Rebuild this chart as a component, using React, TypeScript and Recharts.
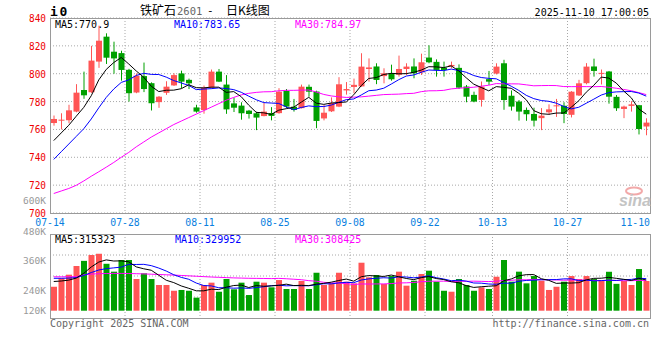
import { ComposedChart, Bar, Line, XAxis, YAxis, CartesianGrid, Cell } from 'recharts'

const dates = [
  '07-14', '07-15', '07-16', '07-17', '07-18',
  '07-21', '07-22', '07-23', '07-24', '07-25',
  '07-28', '07-29', '07-30', '07-31', '08-01',
  '08-04', '08-05', '08-06', '08-07', '08-08',
  '08-11', '08-12', '08-13', '08-14', '08-15',
  '08-18', '08-19', '08-20', '08-21', '08-22',
  '08-25', '08-26', '08-27', '08-28', '08-29',
  '09-01', '09-02', '09-03', '09-04', '09-05',
  '09-08', '09-09', '09-10', '09-11', '09-12',
  '09-15', '09-16', '09-17', '09-18', '09-19',
  '09-22', '09-23', '09-24', '09-25', '09-26',
  '09-29', '09-30', '10-09', '10-10',
  '10-13', '10-14', '10-15', '10-16', '10-17',
  '10-20', '10-21', '10-22', '10-23', '10-24',
  '10-27', '10-28', '10-29', '10-30', '10-31',
  '11-03', '11-04', '11-05', '11-06', '11-07',
  '11-10',
]

const opens = [
  764.6, 766.5, 766.6, 772.8, 788.3, 786.7, 808.7, 826.6, 815.8, 814.8,
  802.8, 786.5, 798.3, 793.2, 779.6, 786.3, 791.6, 800.2, 795.6, 775.8,
  773.9, 790.0, 801.5, 792.2, 778.7, 777.1, 773.5, 771.6, 769.6, 771.8,
  771.7, 787.6, 776.3, 775.3, 790.6, 787.2, 767.9, 773.0, 776.4, 788.0,
  790.5, 790.9, 803.4, 805.2, 798.3, 800.2, 799.2, 803.4, 805.2, 801.0,
  811.6, 808.5, 804.4, 805.3, 804.2, 790.8, 784.8, 781.2, 796.1, 800.1,
  807.5, 784.2, 780.0, 774.0, 771.1, 768.1, 772.3, 776.9, 777.0, 770.5,
  784.4, 793.2, 805.2, 800.0, 801.6, 783.4, 774.7, 776.9, 777.4, 762.1,
]
const highs = [
  770.0, 771.6, 777.7, 792.5, 801.5, 820.0, 834.5, 829.0, 823.0, 816.5,
  803.5, 800.2, 808.0, 793.8, 784.0, 794.6, 800.3, 802.2, 796.5, 777.7,
  791.5, 803.0, 803.4, 799.0, 782.8, 779.5, 774.0, 772.7, 779.3, 776.0,
  789.6, 789.0, 781.9, 792.2, 792.2, 787.8, 777.6, 783.0, 797.5, 794.0,
  796.5, 814.7, 811.0, 807.5, 803.9, 806.5, 813.0, 807.5, 811.0, 814.4,
  820.4, 810.3, 808.7, 808.7, 806.7, 791.9, 787.1, 794.4, 802.0, 807.5,
  810.0, 788.0, 781.1, 775.7, 775.6, 775.3, 778.0, 781.9, 779.5, 787.5,
  795.6, 807.6, 810.8, 803.0, 802.0, 784.7, 777.1, 780.3, 777.6, 768.0,
]
const lows = [
  762.7, 760.0, 764.5, 772.3, 782.0, 786.2, 804.2, 807.0, 800.0, 795.0,
  780.0, 786.0, 786.8, 773.6, 775.5, 784.8, 791.2, 789.7, 789.0, 772.0,
  771.3, 789.5, 794.0, 771.2, 772.5, 767.0, 767.8, 759.5, 769.4, 766.5,
  771.3, 775.3, 772.8, 775.0, 783.5, 760.9, 766.5, 772.5, 776.0, 785.0,
  786.0, 790.5, 794.3, 792.5, 793.1, 795.0, 797.9, 799.1, 796.7, 799.1,
  807.5, 797.9, 797.9, 803.9, 789.0, 779.5, 779.5, 776.4, 791.9, 799.5,
  774.1, 773.5, 766.3, 766.2, 762.1, 759.5, 770.4, 769.0, 764.5, 768.6,
  784.0, 792.4, 797.9, 792.3, 778.5, 773.3, 768.1, 772.8, 756.4, 755.8,
]
const closes = [
  767.5, 767.0, 773.7, 786.4, 784.5, 809.4, 823.7, 811.5, 811.0, 802.7,
  786.0, 798.6, 789.0, 778.8, 783.5, 790.7, 799.0, 794.3, 793.1, 772.8,
  790.0, 801.5, 794.3, 774.4, 775.6, 771.6, 771.1, 768.5, 772.8, 769.7,
  787.1, 776.4, 774.0, 790.7, 787.1, 766.1, 772.0, 779.0, 792.4, 789.0,
  792.0, 805.1, 804.5, 795.5, 800.3, 796.0, 803.4, 805.1, 800.3, 808.2,
  808.2, 802.7, 802.7, 806.3, 790.0, 783.5, 780.0, 790.7, 794.3, 805.1,
  781.1, 776.4, 772.8, 770.9, 766.3, 769.9, 774.4, 777.3, 771.1, 787.1,
  793.1, 805.1, 802.0, 800.6, 783.5, 775.2, 776.4, 778.0, 760.3, 764.9,
]

const ma5 = [
  752.0, 757.5, 763.0, 769.5, 775.82, 784.2, 795.54, 803.1, 808.02, 811.66,
  806.98, 801.96, 797.46, 791.02, 787.18, 788.12, 788.2, 789.26, 792.12, 789.98,
  789.84, 790.34, 790.34, 786.6, 787.16, 783.48, 777.4, 772.24, 771.92, 770.74,
  773.84, 774.9, 776.0, 779.58, 783.06, 778.86, 777.98, 778.98, 779.32, 779.7,
  784.88, 791.5, 796.6, 797.22, 799.48, 800.28, 799.94, 800.06, 801.02, 802.6,
  805.04, 804.9, 804.42, 805.62, 801.98, 797.04, 792.5, 790.1, 787.7, 790.72,
  790.24, 789.52, 785.94, 781.26, 773.5, 771.26, 770.86, 771.76, 771.8, 775.96,
  780.6, 786.74, 791.68, 797.58, 796.86, 793.28, 787.54, 782.74, 774.68, 770.96,
]
const ma10 = [
  738.5, 744.0, 749.5, 755.0, 760.5, 767.5, 775.5, 783.0, 789.0, 793.74,
  795.59, 798.75, 800.28, 799.52, 799.42, 797.55, 795.08, 793.36, 791.57, 788.58,
  788.98, 789.27, 789.8, 789.36, 788.57, 786.66, 783.87, 781.29, 779.26, 778.95,
  778.66, 776.15, 774.12, 775.75, 776.9, 776.35, 776.44, 777.49, 779.45, 781.38,
  781.87, 784.74, 787.79, 788.27, 789.59, 792.58, 795.72, 798.33, 799.12, 801.04,
  802.66, 802.42, 802.24, 803.32, 802.29, 801.04, 798.7, 797.26, 796.66, 796.35,
  793.64, 791.01, 788.02, 784.48, 782.11, 780.75, 780.19, 778.85, 776.53, 774.73,
  775.93, 778.8, 781.72, 784.69, 786.41, 786.94, 787.14, 787.21, 786.13, 783.91,
]
const ma30 = [
  714.0, 715.8, 717.6, 719.9, 723.0, 726.4, 729.6, 732.9, 736.3, 740.0,
  743.5, 747.5, 751.0, 754.5, 757.5, 760.5, 763.5, 766.0, 768.5, 771.0,
  773.5, 776.0, 778.5, 781.0, 783.0, 784.8, 785.9, 786.6, 787.0, 787.09,
  787.74, 788.06, 788.07, 788.21, 788.3, 786.85, 785.13, 784.05, 783.43, 782.97,
  783.17, 783.39, 783.9, 784.46, 785.02, 785.2, 785.34, 785.7, 785.94, 787.12,
  787.73, 787.77, 788.05, 789.11, 789.59, 789.99, 790.29, 791.03, 791.74, 792.92,
  792.72, 792.72, 792.68, 792.02, 791.33, 791.46, 791.54, 791.48, 790.77, 790.71,
  790.74, 790.74, 790.66, 790.83, 790.27, 789.58, 788.68, 787.77, 786.44, 785.0,
]

const volumes = [
  246000, 333000, 370000, 459000, 512000, 572000, 585000, 482000, 401000, 521000,
  521000, 326000, 384000, 326000, 264000, 264000, 205000, 213000, 205000, 134000,
  264000, 288000, 195000, 326000, 220000, 288000, 161000, 298000, 288000, 240000,
  315000, 223000, 223000, 305000, 223000, 390000, 264000, 284000, 390000, 298000,
  281000, 493000, 343000, 367000, 274000, 356000, 401000, 257000, 308000, 377000,
  411000, 298000, 205000, 195000, 326000, 264000, 205000, 240000, 223000, 349000,
  521000, 298000, 401000, 281000, 356000, 308000, 213000, 246000, 298000, 356000,
  326000, 356000, 326000, 305000, 400000, 276000, 305000, 264000, 428000, 305000,
]
const volMa5 = [
  300000, 305000, 314000, 335000, 384000, 449200, 499600, 522000, 510400, 512200,
  502000, 450200, 430600, 415600, 364200, 312800, 288600, 254400, 230200, 204200,
  204200, 220800, 217200, 241400, 258600, 263400, 238000, 258600, 251000, 255000,
  260400, 272800, 257800, 261200, 257800, 272800, 281000, 293200, 310200, 325200,
  303400, 349200, 361000, 356400, 351600, 366600, 348200, 331000, 319200, 339800,
  350800, 330200, 319800, 297200, 287000, 257600, 239000, 246000, 251600, 256200,
  307600, 326200, 358400, 370000, 371400, 328800, 311800, 280800, 284200, 284200,
  287800, 316400, 332400, 333800, 342600, 332600, 322400, 310000, 332200, 315600,
]
const volMa10 = [
  333000, 333000, 335000, 340000, 362000, 392000, 418000, 432000, 440000, 448100,
  475600, 474900, 476300, 463000, 438200, 407400, 369400, 342500, 322900, 284200,
  258500, 254700, 235800, 235800, 231400, 233800, 229400, 237900, 246200, 256800,
  261900, 255400, 258200, 256100, 256400, 266600, 276900, 275500, 285700, 291500,
  288100, 315100, 327100, 333300, 338400, 335000, 348700, 346000, 337800, 345700,
  358700, 339200, 325400, 308200, 313400, 304200, 284600, 282900, 274400, 271600,
  282600, 282600, 302200, 310800, 313800, 318200, 319000, 319600, 327100, 327800,
  308300, 314100, 306600, 309000, 313400, 310200, 319400, 321200, 334200, 329100,
]
const volMa30 = [
  348000, 348000, 349000, 350000, 368000, 376000, 380000, 382000, 383000, 383000,
  382000, 380000, 378000, 375000, 372000, 369000, 366000, 362000, 358000, 354000,
  350000, 346000, 343000, 340000, 337000, 335000, 333000, 332000, 331000, 329700,
  332000, 328300, 323400, 318300, 308700, 302600, 291900, 285300, 284900, 277500,
  269500, 275100, 273700, 275100, 275400, 278500, 285000, 286500, 289900, 298000,
  302900, 303200, 303600, 299200, 302700, 301900, 303400, 301500, 299300, 302900,
  309800, 312300, 318200, 317400, 321900, 319100, 317400, 316200, 313100, 315000,
  316500, 312000, 311400, 309300, 313500, 310900, 307700, 307900, 311900, 309500,
]

const priceTicks = [700, 720, 740, 760, 780, 800, 820, 840]
const dateTicks = ['07-14', '07-28', '08-11', '08-25', '09-08', '09-22', '10-13', '10-27', '11-10']
const volTickLabels = ['600K', '480K', '360K', '240K', '120K']

// layout
const W = 660
const PLOT_L = 50
const PLOT_R = 650
const PLOT_W = PLOT_R - PLOT_L
const MONO = '"DejaVu Sans Mono", monospace'
const RED = '#ff5555'
const GREEN = '#00a000'
const GRID = '#a8a8a8'
const FRAME = '#9a9a9a'
const VOL_LABEL_Y = [200, 231, 260.7, 290, 310.7]

const priceData = dates.map((d, i) => ({
  date: d,
  open: opens[i],
  high: highs[i],
  low: lows[i],
  close: closes[i],
  range: [lows[i], highs[i]],
  ma5: ma5[i],
  ma10: ma10[i],
  ma30: ma30[i],
}))

const volData = dates.map((d, i) => ({
  date: d,
  vol: volumes[i],
  up: closes[i] >= opens[i],
  ma5: volMa5[i],
  ma10: volMa10[i],
  ma30: volMa30[i],
}))

const gridIdx = dateTicks.map((d) => dates.indexOf(d)).filter((i) => i > 0 && i < dates.length - 1)
const vGrid = ({ offset }: any) => gridIdx.map((i) => offset.left + (offset.width * i) / dates.length)
const hGridVol = ({ offset }: any) => [1, 2, 3].map((k) => offset.top + (offset.height * k) / 4)

const Candle = (props: any) => {
  const { x, y, width, height, payload } = props
  const top = Math.min(y, y + height)
  const h = Math.abs(height)
  const { open, close, high, low } = payload
  const color = close >= open ? RED : GREEN
  const span = high - low || 1
  const py = (v: number) => top + ((high - v) / span) * h
  const bTop = py(Math.max(open, close))
  const bBot = py(Math.min(open, close))
  const cx = x + width / 2
  return (
    <g>
      <line x1={cx} x2={cx} y1={top} y2={top + h} stroke={color} strokeWidth={1} />
      <rect x={x} y={bTop} width={width} height={Math.max(1, bBot - bTop)} fill={color} />
    </g>
  )
}

const PriceTick = ({ x, y, payload }: any) => (
  <text x={x} y={y + 4} textAnchor="end" fill="#ee0000" fontSize={11} fontFamily={MONO}
    textLength={17} lengthAdjust="spacingAndGlyphs">{payload.value}</text>
)

const DateTick = ({ x, y, payload }: any) => {
  const half = PLOT_W / dates.length / 2
  const w = 29.5
  const cx = Math.min(x - half, PLOT_R - w / 2)
  return (
    <text x={cx} y={y + 12.5} textAnchor="middle" fill="#0a7fe0" fontSize={11} fontFamily={MONO}
      textLength={w} lengthAdjust="spacingAndGlyphs">{payload.value}</text>
  )
}

export default function App() {
  return (
    <div style={{ position: 'absolute', left: 0, top: 0, width: W, height: 340, background: '#fff' }}>
      <div style={{ position: 'absolute', left: 0, top: 0 }}>
        <ComposedChart width={W} height={232} data={priceData} margin={{ top: 18, right: 10, bottom: 0, left: 0 }}>
          <CartesianGrid stroke={GRID} strokeDasharray="1 2" verticalCoordinatesGenerator={vGrid} />
          <XAxis dataKey="date" ticks={dateTicks} interval={0} height={19} tickSize={0} tickMargin={0}
            axisLine={false} tickLine={false} tick={(p: any) => <DateTick {...p} />} />
          <YAxis domain={[700, 840]} ticks={priceTicks} width={50} tickSize={0} tickMargin={4}
            axisLine={false} tickLine={false} allowDataOverflow tick={(p: any) => <PriceTick {...p} />} />
          <Bar dataKey="range" barSize={6} isAnimationActive={false} shape={(p: any) => <Candle {...p} />} />
          <Line type="linear" dataKey="ma30" stroke="#ff00ff" strokeWidth={1} dot={false} activeDot={false} isAnimationActive={false} />
          <Line type="linear" dataKey="ma10" stroke="#0000ff" strokeWidth={1} dot={false} activeDot={false} isAnimationActive={false} />
          <Line type="linear" dataKey="ma5" stroke="#000000" strokeWidth={1} dot={false} activeDot={false} isAnimationActive={false} />
        </ComposedChart>
      </div>
      <div style={{ position: 'absolute', left: 0, top: 220 }}>
        <ComposedChart width={W} height={100} data={volData} margin={{ top: 14, right: 10, bottom: 2, left: 50 }}>
          <CartesianGrid stroke={GRID} strokeDasharray="1 2" verticalCoordinatesGenerator={vGrid}
            horizontalCoordinatesGenerator={hGridVol} />
          <XAxis dataKey="date" hide />
          <YAxis hide domain={[-75000, 788000]} allowDataOverflow />
          <Bar dataKey="vol" barSize={6} isAnimationActive={false}>
            {volData.map((d, i) => (
              <Cell key={i} fill={d.up ? RED : GREEN} />
            ))}
          </Bar>
          <Line type="linear" dataKey="ma30" stroke="#ff00ff" strokeWidth={1} dot={false} activeDot={false} isAnimationActive={false} />
          <Line type="linear" dataKey="ma10" stroke="#0000ff" strokeWidth={1} dot={false} activeDot={false} isAnimationActive={false} />
          <Line type="linear" dataKey="ma5" stroke="#000000" strokeWidth={1} dot={false} activeDot={false} isAnimationActive={false} />
        </ComposedChart>
      </div>
      <svg width={W} height={340} style={{ position: 'absolute', left: 0, top: 0, pointerEvents: 'none' }}>
        <rect x={PLOT_L} y={18} width={PLOT_W} height={195} fill="none" stroke={FRAME} shapeRendering="crispEdges" />
        <rect x={PLOT_L} y={234} width={PLOT_W} height={84} fill="none" stroke={FRAME} shapeRendering="crispEdges" />

        <text x={50} y={16} fontFamily={MONO} fontWeight="bold" fontSize={13}>i</text>
        <text x={59.5} y={16} fontFamily={MONO} fontWeight="bold" fontSize={13}>0</text>

        <text x={140} y={14.5} fontFamily='"Noto Sans CJK SC"' fontSize={12}>铁矿石</text>
        <text x={177} y={14.5} fontFamily={MONO} fontSize={10.5} fill="#666">2601</text>
        <text x={207} y={13.5} fontFamily={MONO} fontSize={11}>-</text>
        <text x={226} y={14.5} fontFamily='"Noto Sans CJK SC"' fontSize={12}>日K线图</text>
        <text x={649} y={16} textAnchor="end" fontFamily={MONO} fontSize={10}>2025-11-10 17:00:05</text>

        <text x={55} y={28} fontFamily={MONO} fontSize={10} fill="#000">MA5:770.9</text>
        <text x={174} y={28} fontFamily={MONO} fontSize={10} fill="#0000ff">MA10:783.65</text>
        <text x={295} y={28} fontFamily={MONO} fontSize={10} fill="#ff00ff">MA30:784.97</text>

        <text x={55} y={243} fontFamily={MONO} fontSize={10} fill="#000">MA5:315323</text>
        <text x={175} y={243} fontFamily={MONO} fontSize={10} fill="#0000ff">MA10:329952</text>
        <text x={295} y={243} fontFamily={MONO} fontSize={10} fill="#ff00ff">MA30:308425</text>

        {volTickLabels.map((t, i) => (
          <text key={t} x={46} y={VOL_LABEL_Y[i] + 3.6} textAnchor="end" fontFamily={MONO} fontSize={9.5} fill="#999">{t}</text>
        ))}

        <ellipse cx={634} cy={191} rx={8} ry={3.5} fill="none" stroke="#f2a9a9" strokeWidth={2} />
        <text x={619} y={206} fontFamily='"Liberation Sans", Arial' fontStyle="italic" fontWeight="bold" fontSize={16} fill="#c4c4c4">sina</text>

        <text x={50} y={327} fontFamily={MONO} fontSize={10} fill="#666">Copyright 2025 SINA.COM</text>
        <text x={649} y={327} textAnchor="end" fontFamily={MONO} fontSize={10} fill="#666">http://finance.sina.com.cn</text>
      </svg>
    </div>
  )
}
